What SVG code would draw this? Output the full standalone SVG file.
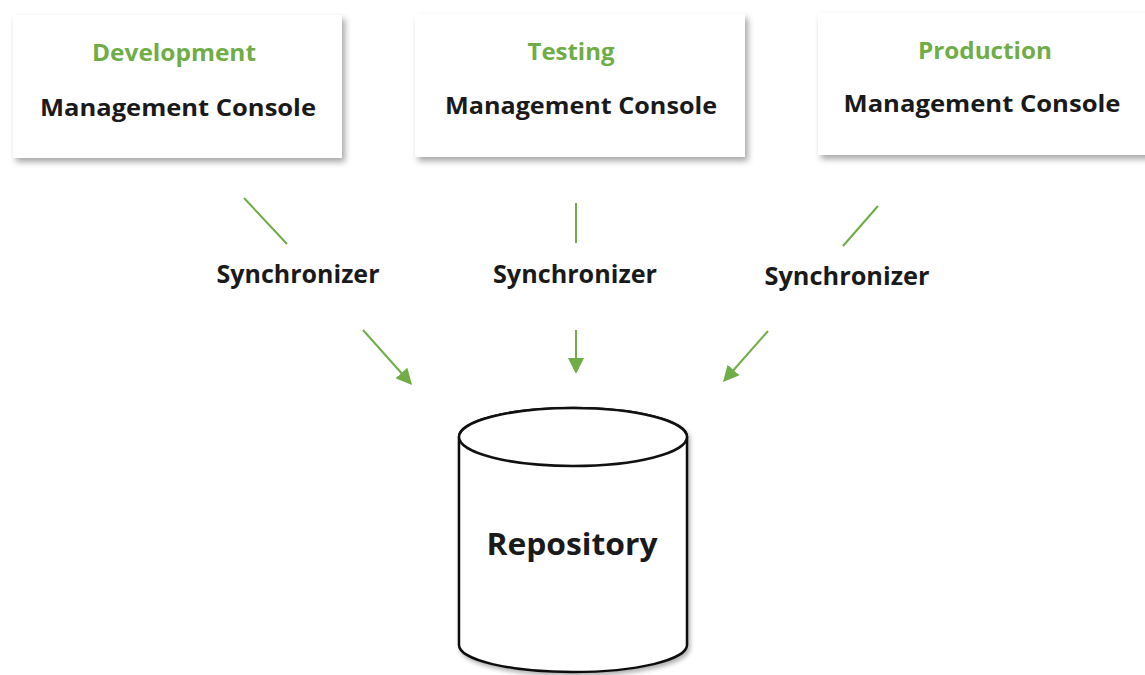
<svg xmlns="http://www.w3.org/2000/svg" width="1145" height="675" viewBox="0 0 1145 675">
  <defs>
    <filter id="shadow" x="-10%" y="-10%" width="130%" height="140%">
      <feDropShadow dx="3" dy="4" stdDeviation="3" flood-color="#000" flood-opacity="0.35"/>
    </filter>
    <filter id="cylshadow" x="-10%" y="-10%" width="130%" height="130%">
      <feDropShadow dx="2" dy="3" stdDeviation="2" flood-color="#000" flood-opacity="0.3"/>
    </filter>
    <marker id="arrow" viewBox="0 0 16 16" refX="8" refY="8" markerWidth="16" markerHeight="16" markerUnits="userSpaceOnUse" orient="auto">
      <path d="M0,0 L16,8 L0,16 z" fill="#70AD47"/>
    </marker>
  </defs>
  <style>
    .box { fill: #ffffff; filter: url(#shadow); }
    .env { font-family: "Open Sans", "Liberation Sans", sans-serif; font-weight: 700; font-size: 24px; fill: #70AD47; text-anchor: middle; }
    .title { font-family: "Open Sans", "Liberation Sans", sans-serif; font-weight: 700; font-size: 24px; fill: #1a1a1a; text-anchor: middle; }
    .sync { font-family: "Open Sans", "Liberation Sans", sans-serif; font-weight: 700; font-size: 25px; fill: #1a1a1a; text-anchor: middle; }
    .repo { font-family: "Open Sans", "Liberation Sans", sans-serif; font-weight: 700; font-size: 31px; fill: #1a1a1a; text-anchor: middle; }
    .conn { stroke: #70AD47; stroke-width: 2; fill: none; }
    .cyl { fill: #ffffff; stroke: #111111; stroke-width: 2.5; }
  </style>
  <rect x="0" y="0" width="1145" height="675" fill="#ffffff"/>

  <g id="dev-console">
    <rect class="box" x="13" y="15" width="329" height="143"/>
    <text class="env" x="174" y="61" textLength="164" lengthAdjust="spacingAndGlyphs">Development</text>
    <text class="title" x="178" y="116" textLength="276" lengthAdjust="spacingAndGlyphs">Management Console</text>
  </g>

  <g id="test-console">
    <rect class="box" x="415" y="14" width="330" height="143"/>
    <text class="env" x="571" y="60" textLength="87" lengthAdjust="spacingAndGlyphs">Testing</text>
    <text class="title" x="581" y="114" textLength="272" lengthAdjust="spacingAndGlyphs">Management Console</text>
  </g>

  <g id="prod-console">
    <rect class="box" x="818" y="13" width="340" height="142"/>
    <text class="env" x="985" y="59" textLength="134" lengthAdjust="spacingAndGlyphs">Production</text>
    <text class="title" x="982" y="112" textLength="277" lengthAdjust="spacingAndGlyphs">Management Console</text>
  </g>

  <g id="sync-labels">
    <text class="sync" x="298" y="283" textLength="163" lengthAdjust="spacingAndGlyphs">Synchronizer</text>
    <text class="sync" x="575" y="283" textLength="164" lengthAdjust="spacingAndGlyphs">Synchronizer</text>
    <text class="sync" x="847" y="285" textLength="165" lengthAdjust="spacingAndGlyphs">Synchronizer</text>
  </g>

  <g id="connectors">
    <line class="conn" x1="244" y1="198" x2="287" y2="244"/>
    <line class="conn" x1="363" y1="330" x2="406.7" y2="379" marker-end="url(#arrow)"/>
    <line class="conn" x1="576" y1="203" x2="576" y2="243"/>
    <line class="conn" x1="576" y1="330" x2="576" y2="366" marker-end="url(#arrow)"/>
    <line class="conn" x1="878" y1="206" x2="843" y2="246"/>
    <line class="conn" x1="768" y1="331" x2="728.3" y2="376" marker-end="url(#arrow)"/>
  </g>

  <g id="repository">
    <path class="cyl" filter="url(#cylshadow)" d="M459,437 L459,645 A114,27 0 0 0 687,645 L687,437 A114,29 0 0 0 459,437 Z"/>
    <ellipse class="cyl" cx="573" cy="437" rx="114" ry="29"/>
    <text class="repo" x="572" y="555" textLength="171" lengthAdjust="spacingAndGlyphs">Repository</text>
  </g>
</svg>
